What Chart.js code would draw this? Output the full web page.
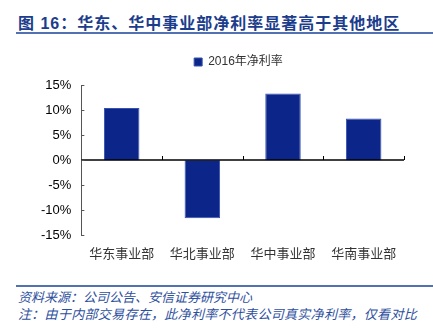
<!DOCTYPE html>
<html>
<head>
<meta charset="utf-8">
<script src="https://cdn.jsdelivr.net/npm/chart.js@4"></script>
<style>
  body { margin: 0; background: #fff; width: 433px; height: 329px; position: relative; overflow: hidden;
         font-family: "Liberation Sans", "Noto Sans CJK SC", sans-serif; }
  #titulo { position: absolute; left: 18px; top: 10px; font-size: 16px; font-weight: bold; color: #1c3c8c;
            letter-spacing: 1px; white-space: nowrap; font-family: "Liberation Sans", "Noto Sans CJK SC", sans-serif; }
  .linea { position: absolute; left: 16px; right: 0; height: 2px; background: #5271b0; }
  #lienzo { position: absolute; left: 0; top: 44px; width: 433px; height: 227px; }
  .nota { position: absolute; left: 18px; font-size: 13px; font-style: italic; color: #2e4f9e; white-space: nowrap;
          font-family: "Noto Sans CJK SC", sans-serif; }
</style>
</head>
<body>
<div id="titulo">图 16：华东、华中事业部净利率显著高于其他地区</div>
<div class="linea" style="top:32px"></div>
<div id="lienzo"><canvas id="grafica"></canvas></div>
<div class="linea" style="top:285px"></div>
<div class="nota" style="top:287px">资料来源：公司公告、安信证券研究中心</div>
<div class="nota" style="top:304px; letter-spacing:0.3px">注：由于内部交易存在，此净利率不代表公司真实净利率，仅看对比</div>

<script>
const regiones = ['华东事业部', '华北事业部', '华中事业部', '华南事业部'];
const margenNeto = [10.4, -11.6, 13.3, 8.3];
const serieNombre = '2016年净利率';

// leyenda: más espacio debajo y un poco desplazada a la derecha
const ajusteLeyenda = {
  id: 'ajusteLeyenda',
  beforeInit(chart) {
    const fitOriginal = chart.legend.fit;
    chart.legend.fit = function () {
      fitOriginal.bind(chart.legend)();
      this.height += 7;
    };
  },
  afterLayout(chart) {
    chart.legend.left += 21;
    chart.legend.right += 21;
  }
};

// ticks pequeños hacia dentro (eje y) y hacia arriba sobre la línea de 0 (eje x)
const marcasEjes = {
  id: 'marcasEjes',
  afterDatasetsDraw(chart) {
    const { ctx, chartArea, scales } = chart;
    const y = scales.y;
    ctx.save();
    const y0 = Math.round(y.getPixelForValue(0));
    ctx.strokeStyle = '#000';
    ctx.lineWidth = 1.5;
    ctx.beginPath();
    ctx.moveTo(chartArea.left, y0);
    ctx.lineTo(chartArea.right, y0);
    ctx.stroke();
    ctx.lineWidth = 1;
    for (let i = 1; i <= regiones.length; i++) {
      const px = Math.round(chartArea.left + (chartArea.right - chartArea.left) * i / regiones.length) + 0.5;
      ctx.beginPath();
      ctx.moveTo(px, y0);
      ctx.lineTo(px, y0 - 4);
      ctx.stroke();
    }
    ctx.strokeStyle = '#555';
    y.ticks.forEach(t => {
      const py = Math.round(y.getPixelForValue(t.value)) + 0.5;
      ctx.beginPath();
      ctx.moveTo(chartArea.left, py);
      ctx.lineTo(chartArea.left + 3, py);
      ctx.stroke();
    });
    ctx.restore();
  }
};

new Chart(document.getElementById('grafica'), {
  type: 'bar',
  data: {
    labels: regiones,
    datasets: [{
      label: serieNombre,
      data: margenNeto,
      backgroundColor: '#0c2589',
      borderColor: '#3552b0',
      borderWidth: 1,
      categoryPercentage: 1,
      barPercentage: 0.44
    }]
  },
  options: {
    responsive: true,
    maintainAspectRatio: false,
    animation: false,
    layout: { padding: { left: 31, right: 29, top: 4, bottom: 0 } },
    plugins: {
      legend: {
        position: 'top',
        labels: {
          boxWidth: 8, boxHeight: 8, padding: 8,
          color: '#333',
          font: { size: 12, family: '"Liberation Sans", "Noto Sans CJK SC", sans-serif' }
        }
      },
      tooltip: { enabled: false }
    },
    scales: {
      x: {
        grid: { display: false, drawTicks: false },
        border: { display: false },
        ticks: { color: '#333', padding: 10, font: { size: 13, family: '"Noto Sans CJK SC", sans-serif' } }
      },
      y: {
        min: -15, max: 15,
        grid: { display: false, drawTicks: false },
        border: { display: true, color: '#555', width: 1 },
        ticks: {
          stepSize: 5, color: '#000', padding: 10,
          font: { size: 13, family: '"Liberation Sans", sans-serif' },
          callback: v => v + '%'
        }
      }
    }
  },
  plugins: [ajusteLeyenda, marcasEjes]
});
</script>
</body>
</html>
